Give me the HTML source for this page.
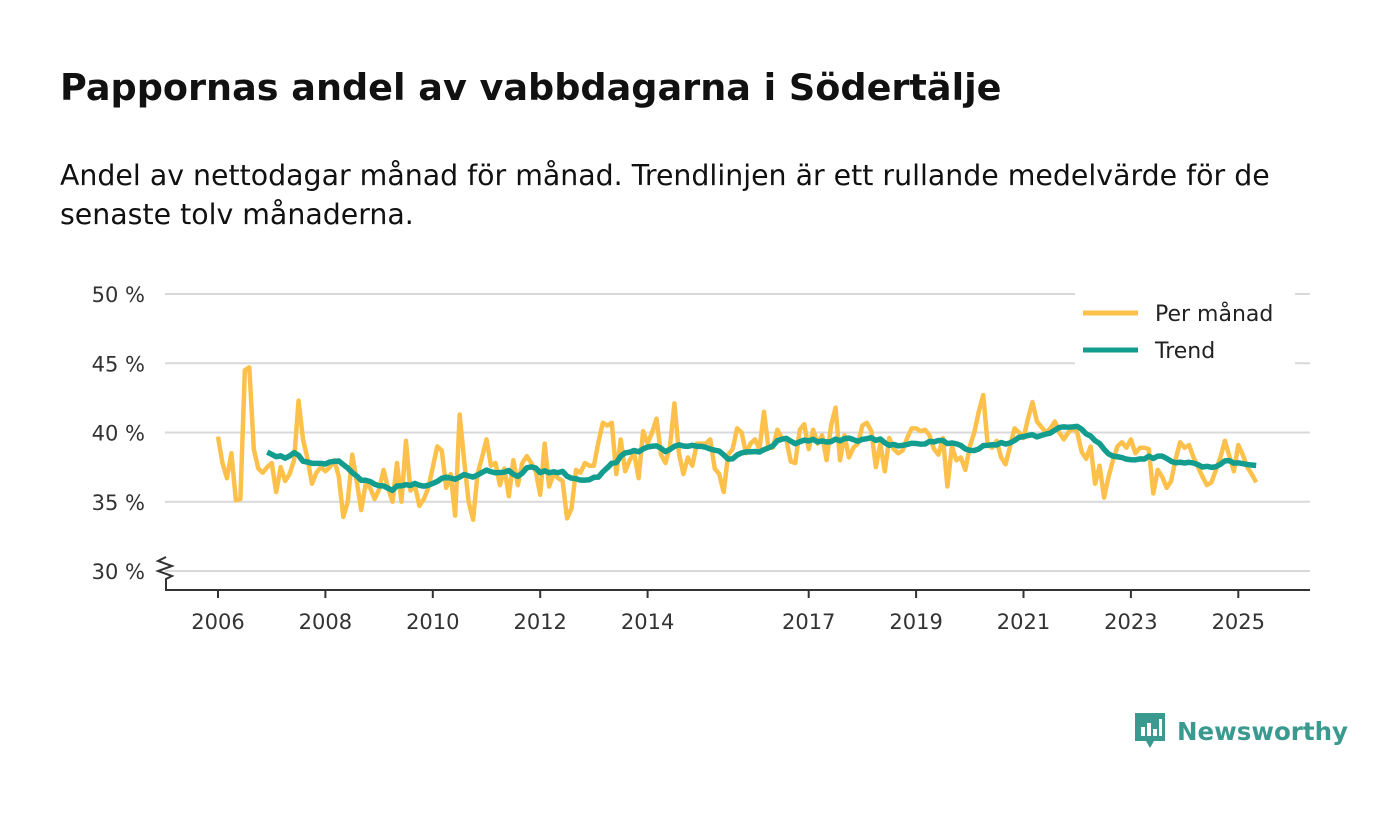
<!DOCTYPE html>
<html><head><meta charset="utf-8">
<style>
body{margin:0;background:#fff;font-family:"DejaVu Sans","Liberation Sans",sans-serif;color:#111;}
#wrap{position:relative;width:1400px;height:813px;overflow:hidden;}
h1{position:absolute;left:60px;top:66px;margin:0;font-size:36.6px;font-weight:bold;}
p{position:absolute;left:60px;top:156px;margin:0;font-size:28.4px;line-height:39px;width:1260px;}
svg text{font-family:"DejaVu Sans","Liberation Sans",sans-serif;}
</style></head><body>
<div id="wrap">
<h1>Pappornas andel av vabbdagarna i Södertälje</h1>
<p>Andel av nettodagar månad för månad. Trendlinjen är ett rullande medelvärde för de senaste tolv månaderna.</p>
<svg id="chart" width="1400" height="813" style="position:absolute;left:0;top:0"></svg>
<div style="position:absolute;left:1133px;top:711px;display:flex;align-items:center;">
<svg width="34" height="40"><path d="M2 2h30v28h-11l-4 7-4-7H2z" fill="#3a9a8f"/><rect x="8" y="16" width="4" height="9" fill="#fff"/><rect x="14" y="12" width="4" height="13" fill="#fff"/><rect x="20" y="18" width="4" height="7" fill="#fff"/><rect x="26" y="8" width="3" height="17" fill="#fff"/></svg>
<span style="font-size:24.5px;font-weight:bold;color:#3a9a8f;margin-left:10px;">Newsworthy</span></div>
</div>
<script>
const startYear = 2006;
const monthly = [
39.7,37.8,36.7,38.5,35.1,35.2,44.5,44.7,38.8,37.4,37.1,37.5,
37.8,35.7,37.5,36.5,37.0,38.0,42.3,39.5,38.1,36.3,37.1,37.5,
37.2,37.5,38.0,36.8,33.9,35.0,38.4,36.5,34.4,36.3,36.0,35.2,
35.9,37.3,36.0,35.0,37.8,35.0,39.4,35.8,36.2,34.7,35.2,36.0,
37.5,39.0,38.7,36.0,37.0,34.0,41.3,38.0,35.0,33.7,37.0,38.2,
39.5,37.6,37.8,36.2,37.4,35.4,38.0,36.2,37.8,38.3,37.8,37.2,
35.5,39.2,36.1,37.0,36.7,36.5,33.8,34.5,37.3,37.1,37.8,37.6,
37.6,39.3,40.7,40.5,40.7,37.0,39.5,37.2,38.0,38.5,36.7,40.1,
39.2,40.0,41.0,38.4,37.8,39.0,42.1,38.5,37.0,38.2,37.6,39.2,
39.2,39.2,39.5,37.4,37.0,35.7,38.4,38.8,40.3,40.0,38.5,39.2,
39.5,38.8,41.5,38.9,38.9,40.2,39.6,39.5,37.9,37.8,40.2,40.6,
38.8,40.2,39.2,39.8,38.0,40.5,41.8,38.0,39.8,38.2,38.9,39.2,
40.5,40.7,40.1,37.5,39.2,37.2,39.6,38.8,38.5,38.7,39.6,40.3,
40.3,40.1,40.2,39.8,38.8,38.4,39.6,36.1,39.0,38.0,38.2,37.3,
39.0,40.0,41.5,42.7,39.1,38.9,39.4,38.2,37.7,39.0,40.3,40.0,
39.6,41.0,42.2,40.8,40.4,40.0,40.3,40.8,40.0,39.5,40.0,40.3,
40.0,38.6,38.1,39.0,36.3,37.6,35.3,36.8,38.0,39.0,39.3,38.9,
39.5,38.5,38.9,38.9,38.8,35.6,37.3,36.8,36.0,36.5,38.1,39.3,
38.9,39.1,38.2,37.5,36.8,36.2,36.4,37.3,38.2,39.4,38.3,37.2,
39.1,38.4,37.5,37.0,36.4];
const yTicks = [30,35,40,45,50];
const yTickLabels = ["30 %","35 %","40 %","45 %","50 %"];
const xTicks = [2006,2008,2010,2012,2014,2017,2019,2021,2023,2025];
const legendLabels = ["Per månad","Trend"];

const NS="http://www.w3.org/2000/svg";
const svg=document.getElementById('chart');
const X=t=>218+(t-2006)*53.7;
const Y=v=>571-(v-30)*13.85;
function el(tag,a,parent){const e=document.createElementNS(NS,tag);for(const k in a)e.setAttribute(k,a[k]);(parent||svg).appendChild(e);return e;}

yTicks.forEach((v,i)=>{
  const g=el('line',{x1:165,x2:1310,y1:Y(v),y2:Y(v),stroke:'#d9d9d9','stroke-width':2});
  
  
  const t=el('text',{x:145,y:Y(v)+8,'text-anchor':'end','font-size':21,fill:'#333'});
  t.textContent=yTickLabels[i];
  
  
});
const ax=el('line',{x1:165,x2:1310,y1:590,y2:590,stroke:'#333','stroke-width':2});


const br=el('path',{d:'M166 557 l-8 4 l14 5 l-14 5 l14 5 l-6 3 V590',fill:'none',stroke:'#333','stroke-width':2});


xTicks.forEach(yr=>{
  const tk=el('line',{x1:X(yr),x2:X(yr),y1:590,y2:598,stroke:'#333','stroke-width':2});
  
  
  const t=el('text',{x:X(yr),y:629,'text-anchor':'middle','font-size':21,fill:'#333'});
  t.textContent=yr;
  
  
});
const pts=monthly.map((v,i)=>[X(startYear+i/12),Y(v)]);
const p1=el('polyline',{points:pts.map(p=>p.join(',')).join(' '),fill:'none',stroke:'#fdc14b','stroke-width':4.5,'stroke-linejoin':'round'});


const tp=[];
for(let i=11;i<monthly.length;i++){let s=0;for(let j=i-11;j<=i;j++)s+=monthly[j];tp.push([X(startYear+i/12),Y(s/12)]);}
const p2=el('polyline',{points:tp.map(p=>p.join(',')).join(' '),fill:'none',stroke:'#139d8e','stroke-width':5.5,'stroke-linejoin':'round'});


const lb=el('rect',{x:1075,y:293,width:220,height:72,fill:'#fff'});


[['#fdc14b',313],['#139d8e',350]].forEach((c,i)=>{
  const l=el('line',{x1:1083,x2:1138,y1:c[1],y2:c[1],stroke:c[0],'stroke-width':5});
  
  
  const t=el('text',{x:1155,y:c[1]+8,'font-size':22,fill:'#222'});
  t.textContent=legendLabels[i];
  
  
});
</script>
</body></html>
